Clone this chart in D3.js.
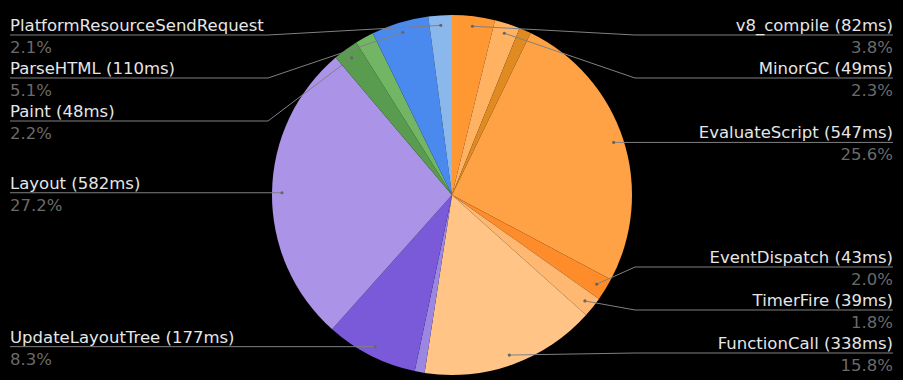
<!DOCTYPE html>
<html>
<head>
<meta charset="utf-8">
<script src="https://cdnjs.cloudflare.com/ajax/libs/d3/7.8.5/d3.min.js"></script>
<style>
  html, body { margin: 0; padding: 0; background: #000; }
  svg { display: block; }
  text { font-family: "DejaVu Sans", Verdana, sans-serif; font-size: 16.5px; }
</style>
</head>
<body>
<div id="chart"></div>
<script>
// slices, clockwise from 12 o'clock (ms)
var names = ["v8_compile", "MinorGC", "other1", "EvaluateScript", "EventDispatch", "TimerFire",
  "FunctionCall", "other2", "UpdateLayoutTree", "Layout", "Paint", "other3", "ParseHTML",
  "PlatformResourceSendRequest"];
var values = [82, 49, 23, 547, 43, 39, 338, 19, 177, 582, 48, 36, 110, 45];
var colors = ["#ff9833", "#ffb262", "#e08a22", "#ffa245", "#ff8c2a", "#ffb872", "#ffc486",
  "#9b86e2", "#7a5ad8", "#ab94e8", "#5a9c4f", "#72b665", "#4a89ee", "#8bb8ec"];
// label text per slice (null = no label); the long one has no ms shown
var labels = ["v8_compile (82ms)", "MinorGC (49ms)", null, "EvaluateScript (547ms)",
  "EventDispatch (43ms)", "TimerFire (39ms)", "FunctionCall (338ms)", null,
  "UpdateLayoutTree (177ms)", "Layout (582ms)", "Paint (48ms)", null, "ParseHTML (110ms)",
  "PlatformResourceSendRequest"];

var width = 903, height = 380;
var cx = 452, cy = 195, radius = 180;
var total = d3.sum(values);

var svg = d3.select("#chart").append("svg")
  .attr("width", width)
  .attr("height", height);

var data = names.map(function (n, i) {
  return { name: n, value: values[i], color: colors[i], label: labels[i] };
});

var pie = d3.pie().sort(null).value(function (d) { return d.value; });
var arcs = pie(data);

var arc = d3.arc().innerRadius(0).outerRadius(radius);
var dotArc = d3.arc().innerRadius(170).outerRadius(170);

var g = svg.append("g").attr("transform", "translate(" + cx + "," + cy + ")");

g.selectAll("path.slice")
  .data(arcs)
  .enter()
  .append("path")
  .attr("class", "slice")
  .attr("d", arc)
  .attr("fill", function (d) { return d.data.color; });

// label placement: start at the dot's height, then push apart
var gap = 43, minY = 35, maxY = 353;
var items = arcs.filter(function (d) { return d.data.label; }).map(function (d) {
  var c = dotArc.centroid(d);
  var mid = (d.startAngle + d.endAngle) / 2;
  return { d: d, dx: c[0] + cx, dy: c[1] + cy, side: mid < Math.PI ? "right" : "left", y: c[1] + cy };
});

["left", "right"].forEach(function (side) {
  var list = items.filter(function (it) { return it.side == side; })
    .sort(function (a, b) { return a.dy - b.dy; });
  var prev = -Infinity;
  list.forEach(function (it) {
    it.y = Math.max(it.dy, minY, prev + gap);
    prev = it.y;
  });
  var next = Infinity;
  for (var i = list.length - 1; i >= 0; i--) {
    list[i].y = Math.min(list[i].y, maxY, next - gap);
    next = list[i].y;
  }
});

var lab = svg.append("g").selectAll("g.label")
  .data(items)
  .enter()
  .append("g")
  .attr("class", "label");

lab.append("polyline")
  .attr("points", function (it) {
    var tx = it.side == "left" ? 10 : 893;
    var ex = it.side == "left" ? cx - radius - 4 : cx + radius + 3;
    if (it.side == "left") ex = Math.min(ex, it.dx);
    else ex = Math.max(ex, it.dx);
    return [[tx, it.y], [ex, it.y], [it.dx, it.dy]].join(" ");
  })
  .attr("fill", "none")
  .attr("stroke", "#808080")
  .attr("stroke-width", 1);

lab.append("circle")
  .attr("cx", function (it) { return it.dx; })
  .attr("cy", function (it) { return it.dy; })
  .attr("r", 1.6)
  .attr("fill", "#666");

lab.append("text")
  .attr("x", function (it) { return it.side == "left" ? 10 : 893; })
  .attr("y", function (it) { return it.y - 4; })
  .attr("text-anchor", function (it) { return it.side == "left" ? "start" : "end"; })
  .attr("fill", "#e6e6e6")
  .text(function (it) { return it.d.data.label; });

lab.append("text")
  .attr("x", function (it) { return it.side == "left" ? 10 : 893; })
  .attr("y", function (it) { return it.y + 18; })
  .attr("text-anchor", function (it) { return it.side == "left" ? "start" : "end"; })
  .attr("fill", "#6a6a6a")
  .text(function (it) { return (it.d.data.value / total * 100).toFixed(1) + "%"; });
</script>
</body>
</html>
